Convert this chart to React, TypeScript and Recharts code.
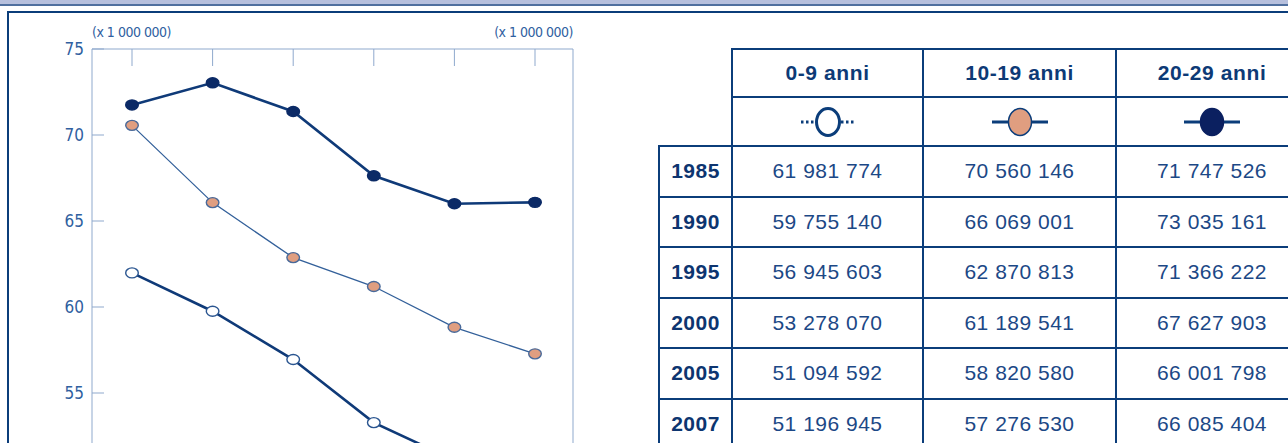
import { LineChart, Line, XAxis, YAxis } from "recharts"

const YEARS = ["1985", "1990", "1995", "2000", "2005", "2007"]
const AGE_GROUPS = ["0-9 anni", "10-19 anni", "20-29 anni"]
const POP_0_9 = [61981774, 59755140, 56945603, 53278070, 51094592, 51196945]
const POP_10_19 = [70560146, 66069001, 62870813, 61189541, 58820580, 57276530]
const POP_20_29 = [71747526, 73035161, 71366222, 67627903, 66001798, 66085404]
const Y_TICKS = [55, 60, 65, 70, 75]
const UNIT_LABEL = "(x 1 000 000)"

const NAVY = "#0b3d7a"
const AXIS = "#8fa9cd"
const TICK_TEXT = "#3060a0"
const NARROW = "'Liberation Sans Narrow', 'DejaVu Sans Condensed', sans-serif"

const SERIES = [
  { key: "p0", values: POP_0_9, line: "#0f3a78", width: 2.6, fill: "#ffffff", stroke: "#2a5590" },
  { key: "p1", values: POP_10_19, line: "#33609a", width: 1.3, fill: "#e09e80", stroke: "#4a6a9a" },
  { key: "p2", values: POP_20_29, line: "#0f3a78", width: 2.6, fill: "#0b2a66", stroke: "#0b2a66" },
]

const data = YEARS.map((year, i) => {
  const row: any = { year }
  SERIES.forEach((s) => (row[s.key] = s.values[i] / 1e6))
  return row
})

const fmt = (n: number) => n.toString().replace(/\B(?=(\d{3})+(?!\d))/g, " ")

const makeDot = (fill: string, stroke: string) => (props: any) => (
  <ellipse
    key={props.index}
    cx={props.cx}
    cy={props.cy}
    rx={6.3}
    ry={5}
    fill={fill}
    stroke={stroke}
    strokeWidth={1.4}
  />
)

const UnitLabel = ({ viewBox, side }: any) => {
  if (!viewBox) return null
  const x = side === "left" ? viewBox.x + viewBox.width : viewBox.x
  return (
    <text
      x={x}
      y={viewBox.y - 12}
      textAnchor={side === "left" ? "start" : "end"}
      fill={TICK_TEXT}
      fontSize={14}
      fontFamily={NARROW}
      letterSpacing={-0.5}
    >
      {UNIT_LABEL}
    </text>
  )
}

// legend glyphs used in the table
const LegendIcon = ({ idx }: { idx: number }) => {
  const s = SERIES[idx]
  return (
    <svg width={90} height={32} style={{ display: "block", margin: "0 auto" }}>
      {idx === 0 ? (
        <g stroke={NAVY} strokeWidth={3} strokeDasharray="2.5 2.5">
          <line x1={18} y1={16} x2={32} y2={16} />
          <line x1={58} y1={16} x2={72} y2={16} />
        </g>
      ) : (
        <line x1={17} y1={16} x2={73} y2={16} stroke={NAVY} strokeWidth={3} />
      )}
      <ellipse
        cx={45}
        cy={16}
        rx={11.5}
        ry={13.5}
        fill={idx === 2 ? "#0b2060" : s.fill}
        stroke={idx === 2 ? "#0b2060" : NAVY}
        strokeWidth={idx === 0 ? 3 : 1.5}
      />
    </svg>
  )
}

const cell = {
  border: `2px solid ${NAVY}`,
  textAlign: "center" as const,
  padding: 0,
}

export default function App() {
  return (
    <div
      style={{
        position: "relative",
        width: 1288,
        height: 443,
        overflow: "hidden",
        background: "#fff",
      }}
    >
      <style>{`body{margin:0;overflow:hidden}`}</style>

      {/* top band */}
      <div style={{ position: "absolute", left: 0, top: 0, width: 1288, height: 4, background: "#b7c0dd" }} />
      <div style={{ position: "absolute", left: 0, top: 4, width: 1288, height: 2, background: "#50709f" }} />

      {/* frame */}
      <div
        style={{
          position: "absolute",
          left: 7,
          top: 11,
          width: 1400,
          height: 600,
          border: `2px solid ${NAVY}`,
        }}
      />

      <div style={{ position: "absolute", left: 0, top: 0 }}>
        <LineChart
          width={660}
          height={530}
          data={data}
          margin={{ top: 48, right: 0, bottom: 51, left: 0 }}
        >
          <XAxis
            dataKey="year"
            orientation="top"
            height={1}
            tick={() => <g />}
            tickLine={{ stroke: AXIS }}
            tickSize={-17}
            interval={0}
            padding={{ left: 40, right: 38 }}
            stroke={AXIS}
          />
          <YAxis
            yAxisId="left"
            orientation="left"
            width={92}
            domain={[50, 75]}
            ticks={Y_TICKS}
            tickSize={-12}
            tickMargin={20}
            stroke={AXIS}
            tick={{ fill: TICK_TEXT, fontSize: 17, fontFamily: NARROW }}
            label={<UnitLabel side="left" />}
          />
          <YAxis
            yAxisId="right"
            orientation="right"
            width={87}
            domain={[50, 75]}
            ticks={Y_TICKS}
            tickSize={-12}
            tickMargin={22}
            stroke={AXIS}
            tick={{ fill: TICK_TEXT, fontSize: 17, fontFamily: NARROW }}
            label={<UnitLabel side="right" />}
          />
          {SERIES.map((s) => (
            <Line
              key={s.key}
              yAxisId="left"
              dataKey={s.key}
              stroke={s.line}
              strokeWidth={s.width}
              dot={makeDot(s.fill, s.stroke)}
              activeDot={false}
              isAnimationActive={false}
            />
          ))}
        </LineChart>
      </div>

      <table
        style={{
          position: "absolute",
          left: 658,
          top: 48,
          width: 649,
          borderCollapse: "collapse",
          tableLayout: "fixed",
          fontFamily: "'Liberation Sans', Arial, sans-serif",
          fontSize: 21,
          letterSpacing: 0.5,
          color: "#1c4886",
        }}
      >
        <colgroup>
          <col style={{ width: 73 }} />
          <col style={{ width: 191 }} />
          <col style={{ width: 193 }} />
          <col style={{ width: 192 }} />
        </colgroup>
        <tbody>
          <tr style={{ height: 48 }}>
            <td style={{ padding: 0 }} />
            {AGE_GROUPS.map((g) => (
              <th key={g} style={{ ...cell, fontWeight: "bold", color: "#0d3a76", letterSpacing: 0.6 }}>
                {g}
              </th>
            ))}
          </tr>
          <tr style={{ height: 49 }}>
            <td style={{ padding: 0 }} />
            {AGE_GROUPS.map((g, i) => (
              <td key={g} style={{ ...cell, lineHeight: 0 }}>
                <LegendIcon idx={i} />
              </td>
            ))}
          </tr>
          {YEARS.map((y, r) => (
            <tr key={y} style={{ height: 50.5 }}>
              <td style={{ ...cell, fontWeight: "bold", color: "#0d3570" }}>{y}</td>
              {SERIES.map((s) => (
                <td key={s.key} style={cell}>
                  {fmt(s.values[r])}
                </td>
              ))}
            </tr>
          ))}
        </tbody>
      </table>
    </div>
  )
}
